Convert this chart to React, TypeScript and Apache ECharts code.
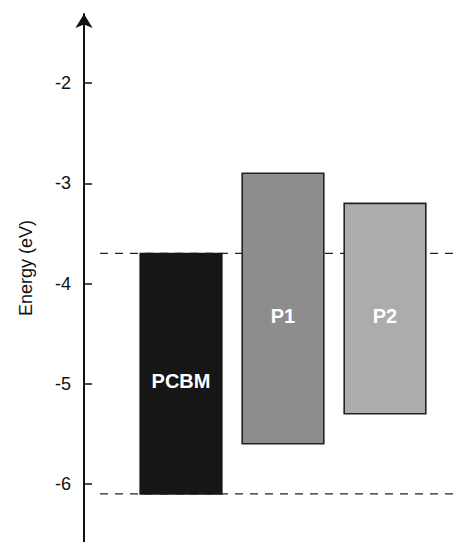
import React, { useEffect, useRef } from "react";
import * as echarts from "echarts";

const categories = ["PCBM", "P1", "P2"];
const lumo = [-3.7, -2.9, -3.2];
const homo = [-6.1, -5.6, -5.3];
const dashedLevels = [-3.7, -6.1];
const tickValues = [-6, -5, -4, -3, -2];
const fills = ["#161616", "#8c8d8c", "#abacab"];

const FONT = "'Liberation Sans', Arial, Helvetica, sans-serif";

export default function App() {
  const ref = useRef<HTMLDivElement>(null);
  useEffect(() => {
    if (!ref.current) return;
    const chart = echarts.init(ref.current, undefined, { renderer: "svg" });
    const barData = categories.map((c, i) => [i, lumo[i], homo[i], c]);
    const lineData = dashedLevels.map((v) => [0, v]);
    chart.setOption({
      animation: false,
      backgroundColor: "#ffffff",
      grid: { left: 130, right: 21, top: 14, bottom: 0 },
      xAxis: {
        type: "category",
        data: categories,
        show: false,
      },
      yAxis: {
        type: "value",
        min: -6.58,
        max: -1.31,
        offset: 46,
        splitLine: { show: false },
        axisLine: {
          show: true,
          symbol: ["none", "arrow"],
          symbolSize: [13, 14],
          lineStyle: { color: "#111", width: 2 },
        },
        axisTick: {
          show: true,
          inside: true,
          length: 8,
          customValues: tickValues,
          lineStyle: { color: "#111", width: 1.5 },
        },
        axisLabel: {
          show: true,
          customValues: tickValues,
          margin: 13,
          fontSize: 18,
          color: "#111",
          fontFamily: FONT,
          formatter: (v: number) => String(v),
        },
      },
      graphic: [
        {
          type: "text",
          x: 26,
          y: 268,
          rotation: Math.PI / 2,
          style: {
            text: "Energy (eV)",
            fontSize: 18,
            fontFamily: FONT,
            fill: "#111",
            align: "center",
            verticalAlign: "middle",
          },
        },
      ],
      series: [
        {
          type: "custom",
          clip: false,
          z: 1,
          data: lineData,
          renderItem: (params: any, api: any) => {
            const p = api.coord([api.value(0), api.value(1)]);
            const cs = params.coordSys;
            return {
              type: "line",
              shape: { x1: cs.x - 30, y1: p[1], x2: cs.x + cs.width + 19, y2: p[1] },
              style: { stroke: "#222", lineWidth: 1.3, lineDash: [8, 7] },
            };
          },
        },
        {
          type: "custom",
          clip: false,
          z: 2,
          data: barData,
          renderItem: (params: any, api: any) => {
            const idx = api.value(0);
            const top = api.coord([idx, api.value(1)]);
            const bot = api.coord([idx, api.value(2)]);
            const w = api.size([1, 0])[0] * 0.8;
            const i = params.dataIndex;
            const fill = fills[i];
            return {
              type: "group",
              children: [
                {
                  type: "rect",
                  shape: { x: top[0] - w / 2, y: top[1], width: w, height: bot[1] - top[1] },
                  style: { fill, stroke: i === 0 ? fill : "#222", lineWidth: 1.6 },
                },
                {
                  type: "text",
                  x: top[0],
                  y: (top[1] + bot[1]) / 2 + 7,
                  style: {
                    text: categories[i],
                    fill: "#ffffff",
                    fontSize: 20,
                    fontWeight: "bold",
                    fontFamily: FONT,
                    align: "center",
                    verticalAlign: "middle",
                  },
                },
              ],
            };
          },
        },
      ],
    });
    return () => chart.dispose();
  }, []);
  return (
    <div
      ref={ref}
      style={{ position: "fixed", left: 0, top: 0, width: 457, height: 542 }}
    />
  );
}
